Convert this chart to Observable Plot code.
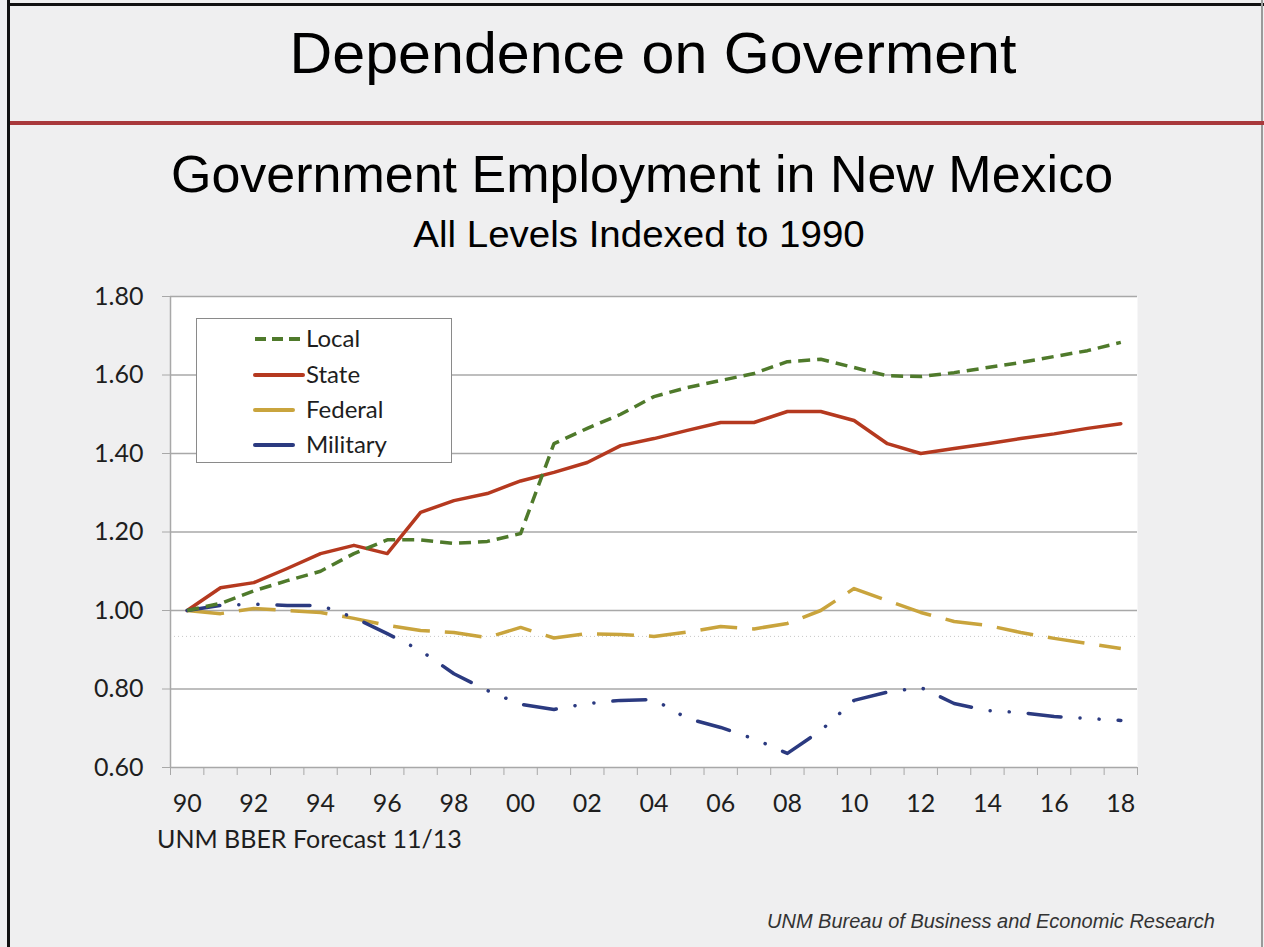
<!DOCTYPE html>
<html>
<head>
<meta charset="utf-8">
<script src="https://cdn.jsdelivr.net/npm/d3@7"></script>
<script src="https://cdn.jsdelivr.net/npm/@observablehq/plot@0.6"></script>
<style>
  html, body { margin: 0; padding: 0; background: #efeff0; }
  #page { position: relative; width: 1264px; height: 947px; overflow: hidden; background: #efeff0; }
  .abs { position: absolute; white-space: nowrap; }
  .title { font-family: "Liberation Sans", Arial, sans-serif; color: #000; line-height: 1; }
  #chart { position: absolute; left: 0; top: 280px; }
  #legend { position: absolute; left: 196px; top: 318px; width: 254px; height: 143px; background: #fff; border: 1.5px solid #8a8a8a; }
</style>
</head>
<body>
<div id="page">
  <div class="abs" style="left:7px;top:0;width:3px;height:947px;background:#111"></div>
  <div class="abs" style="left:7px;top:3px;width:1257px;height:3px;background:#111"></div>
  <div class="abs" style="left:1261px;top:0;width:2px;height:947px;background:#9a9a9a"></div>
  <div class="abs" style="left:10px;top:121px;width:1254px;height:4px;background:#a8383b"></div>

  <div class="abs title" style="left:653px;top:24px;font-size:58px;transform:translateX(-50%) scaleX(1.02)">Dependence on Goverment</div>
  <div class="abs title" style="left:642px;top:148px;font-size:52px;transform:translateX(-50%)">Government Employment in New Mexico</div>
  <div class="abs title" style="left:639px;top:216px;font-size:37px;transform:translateX(-50%) scaleX(1.04)">All Levels Indexed to 1990</div>

  <div id="chart"></div>
  <div id="legend"></div>

  <div class="abs" style="left:157px;top:826px;font-family:Lato,sans-serif;font-size:25px;line-height:1;color:#1e1e1e">UNM BBER Forecast 11/13</div>
  <div class="abs" style="left:767px;top:911px;font-family:'Liberation Sans',Arial,sans-serif;font-style:italic;font-size:20px;line-height:1;color:#333">UNM Bureau of Business and Economic Research</div>
</div>
<script>
const years = d3.range(1990, 2019);
const local = [1.00, 1.018, 1.05, 1.076, 1.10, 1.145, 1.18, 1.18, 1.171, 1.176, 1.196,
  1.425, 1.464, 1.50, 1.545, 1.568, 1.586, 1.604, 1.634, 1.64,
  1.619, 1.598, 1.596, 1.606, 1.619, 1.632, 1.647, 1.662, 1.683];
const state = [1.00, 1.058, 1.071, 1.107, 1.145, 1.166, 1.145, 1.25, 1.28, 1.298, 1.33,
  1.352, 1.377, 1.42, 1.438, 1.459, 1.479, 1.479, 1.507, 1.507,
  1.484, 1.425, 1.40, 1.413, 1.425, 1.438, 1.45, 1.464, 1.476];
const federal = [1.00, 0.992, 1.005, 1.00, 0.995, 0.98, 0.962, 0.949, 0.944, 0.931, 0.957,
  0.93, 0.941, 0.939, 0.934, 0.945, 0.959, 0.953, 0.967, 1.00,
  1.056, 1.025, 0.995, 0.972, 0.962, 0.944, 0.929, 0.916, 0.903];
const military = [1.00, 1.013, 1.016, 1.013, 1.013, 0.982, 0.941, 0.898, 0.839, 0.796, 0.761,
  0.748, 0.763, 0.771, 0.773, 0.725, 0.702, 0.673, 0.636, 0.694,
  0.771, 0.792, 0.804, 0.763, 0.745, 0.74, 0.73, 0.725, 0.72];

const seriesNames = ["Local", "State", "Federal", "Military"];
const seriesValues = [local, state, federal, military];
const seriesColors = ["#4f7a2b", "#b5391f", "#c9a43d", "#2b3a80"];
const seriesDash = ["12,7", null, "37,15", "33,19,0.1,19,0.1,19"];
const seriesCap = ["butt", "round", "butt", "round"];

const yTicks = [0.6, 0.8, 1.0, 1.2, 1.4, 1.6, 1.8];
const xLabelYears = d3.range(1990, 2019, 2);
const xBoundaries = d3.range(1989.5, 2019, 1);
const faintRule = [0.934];

const fmtYear = d => String(d % 100).padStart(2, "0");

const marks = [
  Plot.frame({fill: "white", stroke: "none"}),
  Plot.ruleY(faintRule, {stroke: "#c8c8c8", strokeDasharray: "1,3"}),
  Plot.ruleY(yTicks, {stroke: "#a8a8a8", strokeWidth: 1.5}),
  Plot.ruleX([1989.5], {stroke: "#a8a8a8", strokeWidth: 1.5}),
  Plot.axisY({ticks: yTicks, tickSize: 8, tickPadding: 19, tickFormat: d3.format(".2f"), label: null, stroke: "#a8a8a8", fill: "#1e1e1e"}),
  Plot.axisX({ticks: xBoundaries, tickSize: 8, tickFormat: () => "", label: null, stroke: "#a8a8a8"}),
  Plot.axisX({ticks: xLabelYears, tickSize: 0, tickPadding: 27, tickFormat: fmtYear, label: null, fill: "#1e1e1e"})
];
// draw order: State, Federal, Military, Local on top
[1, 2, 3, 0].forEach(i => {
  const data = years.map((y, j) => ({year: y, value: seriesValues[i][j]}));
  marks.push(Plot.line(data, {
    x: "year", y: "value", stroke: seriesColors[i], strokeWidth: 3.5,
    strokeDasharray: seriesDash[i] || undefined, strokeLinecap: seriesCap[i], strokeLinejoin: "round"
  }));
});

const chart = Plot.plot({
  width: 1264,
  height: 567,
  marginLeft: 170,
  marginRight: 127,
  marginTop: 16,
  marginBottom: 80,
  x: {type: "linear", domain: [1989.5, 2018.5]},
  y: {domain: [0.6, 1.8]},
  style: {fontFamily: "Lato, sans-serif", fontSize: "25px", background: "transparent", color: "#222", overflow: "visible"},
  marks
});
document.getElementById("chart").appendChild(chart);

// legend
const legend = document.getElementById("legend");
const svgNS = "http://www.w3.org/2000/svg";
const lsvg = document.createElementNS(svgNS, "svg");
lsvg.setAttribute("width", 254);
lsvg.setAttribute("height", 143);
const rowY = [20, 56, 91, 126];
const sampleEnd = [106, 106, 96, 96];
seriesNames.forEach((name, i) => {
  const ln = document.createElementNS(svgNS, "line");
  ln.setAttribute("x1", 58); ln.setAttribute("x2", sampleEnd[i]);
  ln.setAttribute("y1", rowY[i]); ln.setAttribute("y2", rowY[i]);
  ln.setAttribute("stroke", seriesColors[i]);
  ln.setAttribute("stroke-width", 4);
  if (i === 0) ln.setAttribute("stroke-dasharray", "11,6");
  ln.setAttribute("stroke-linecap", i === 0 ? "butt" : "round");
  lsvg.appendChild(ln);
  const tx = document.createElementNS(svgNS, "text");
  tx.setAttribute("x", 109); tx.setAttribute("y", rowY[i]);
  tx.setAttribute("dy", "0.35em");
  tx.setAttribute("font-family", "Lato, sans-serif");
  tx.setAttribute("font-size", 24);
  tx.setAttribute("fill", "#1e1e1e");
  tx.textContent = name;
  lsvg.appendChild(tx);
});
legend.appendChild(lsvg);
</script>
</body>
</html>
